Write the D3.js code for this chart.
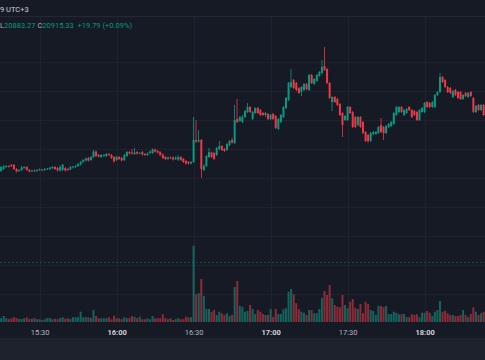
<!DOCTYPE html>
<html><head><meta charset="utf-8">
<script src="https://cdn.jsdelivr.net/npm/d3@7"></script>
<style>html,body{margin:0;padding:0;background:#161a25;}svg{display:block;}</style>
</head><body><svg id="c" width="485" height="360"></svg>
<script>
// ---- data (1-minute candles from 15:15, UTC+3) ----
const open = [
20874.5,20875.5,20876.5,20877,20877.5,20877.5,20875.5,20874.5,20875,20876,
20876.5,20875,20874.5,20874.75,20874.5,20875,20875.25,20875,20875.5,20875.5,
20876,20876.5,20876,20874.75,20875,20876,20875.5,20875.25,20876.25,20876.5,
20877,20877.75,20879,20879.75,20881,20880,20881.5,20884.25,20882.5,20881.5,
20882,20882,20883,20882.5,20881.5,20880,20881.5,20881,20880,20882,
20884,20883.75,20883,20884,20883.25,20884,20883,20882.5,20883.5,20883.5,
20885.25,20884.5,20884,20882.75,20881.5,20880.5,20881.25,20881.25,20880.5,20880.25,
20881.5,20880.5,20879.5,20879,20878.25,20879,20890,20889.25,20890,20875,
20877,20881.5,20883.75,20883.5,20882.5,20885.5,20887,20885.5,20885,20887.5,
20890,20888.5,20900.5,20899.5,20899,20901.5,20904,20906.5,20900.5,20903.5,
20906,20905,20903.5,20902.5,20903,20900.5,20903,20902,20895.5,20899,
20901.5,20906,20910,20916.5,20920,20918.5,20916,20914,20915,20918,
20915,20922.5,20918,20919.5,20922,20923.5,20927,20925.5,20918.5,20909,
20911.5,20910.5,20908,20903.5,20900,20900,20906.5,20904,20901.5,20897.5,
20901.5,20899,20894,20892.5,20889.5,20893,20893,20893.5,20897.5,20896.5,
20893.5,20896.5,20897,20898,20902.5,20904,20906.5,20902.5,20903.5,20906.5,
20905,20904.5,20904,20900,20904,20904,20909,20908.5,20906.5,20906.5,
20912.5,20914,20921.5,20920,20916.5,20916,20911.5,20915,20914,20914,
20910.5,20913.5,20911.5,20914,20911,20904,20907.5,20905,20907.5];
const high = [
20877,20877.5,20877.5,20877.5,20878,20878,20876,20875.5,20877,20877,
20877,20875.5,20875,20875.25,20875.5,20875.75,20875.5,20876,20876,20876.5,
20877,20877,20876.5,20877.5,20878,20876.5,20876,20877,20877,20877.5,
20878.5,20879.5,20880.5,20881.25,20881.5,20882,20885,20884.75,20883,20883,
20883,20883.5,20883.5,20883,20882,20882,20882,20881.5,20883,20884.5,
20884.5,20885.5,20886,20884.5,20884,20884.5,20883.5,20883.75,20884.75,20885.75,
20885.75,20885,20884.5,20883.25,20882,20881.75,20881.75,20881.75,20881.75,20882.5,
20882,20881,20880,20879.5,20879.5,20901.5,20900,20895,20890.5,20878,
20882.5,20886,20884.25,20884,20886.5,20889.5,20887.5,20886,20888.5,20890,
20891,20907.5,20910.5,20902,20902.5,20905,20908.5,20907,20904.5,20906.5,
20906.5,20905.5,20904,20904,20903.5,20903,20903.5,20902.5,20901,20903,
20907,20911.5,20919,20925.5,20920.5,20919,20916.5,20917,20918.5,20918.5,
20923,20923,20921,20923,20924.5,20930,20936.5,20926,20919,20912,
20912,20911,20908.5,20904,20902.5,20907,20907,20904.5,20902,20902,
20902,20899.5,20894.5,20893,20894,20894.5,20894.5,20897,20901,20897,
20897.5,20898.5,20899.5,20904,20907,20907,20907,20905.5,20906,20907,
20905.5,20905,20904.5,20905.5,20906.5,20909,20909.5,20909,20909.5,20913,
20914.5,20923.5,20922,20920.5,20917,20916.5,20915,20915.5,20914.5,20914.5,
20913,20914,20914,20914.5,20911.5,20907.5,20908,20908,20908];
const low = [
20874,20875,20876,20876.25,20876.5,20875,20873.75,20874,20874.5,20875.5,
20874.5,20873.75,20874,20874,20874,20874.5,20874.5,20874.5,20875,20875,
20875.5,20875,20874.25,20874.25,20874.5,20874.25,20874.5,20875,20875.75,20876,
20876.5,20877.25,20878.5,20879.25,20879.25,20879.5,20881,20881.5,20881.25,20881,
20881.5,20881.5,20882,20880.5,20878.75,20879.5,20880,20879.25,20879.5,20881.5,
20882.75,20882.75,20882.5,20882.75,20883,20882.25,20882,20882,20883,20883,
20883.75,20883.25,20882,20880.5,20880,20880,20880.5,20879.75,20880,20879.5,
20879.5,20878.5,20877.75,20877.75,20877.75,20878.5,20888.5,20888.75,20871,20874.5,
20876.5,20881,20881,20880,20882,20885,20884.5,20884,20884.5,20887,
20888.25,20888,20898.5,20899,20898.5,20901,20903.5,20903.5,20900,20903,
20903,20902,20902,20901.5,20900,20900,20900,20895.5,20895,20898.5,
20901,20905.5,20909.5,20916,20915.5,20914.5,20913,20912,20914.5,20915,
20914.5,20918,20917.5,20919,20921.5,20923,20924.5,20918,20910.5,20904.5,
20908.5,20907,20902,20891.5,20899.5,20899.5,20903,20896,20896,20897,
20896,20893,20889,20888.5,20889,20892.5,20892.5,20893,20893.5,20890,
20893,20896,20896.5,20897.5,20902,20903.5,20903.5,20902,20903,20904.5,
20901,20902,20899.5,20899.5,20903.5,20903.5,20906,20906,20906,20906,
20912,20913.5,20918.5,20916,20913.5,20913,20911,20912,20910.5,20910,
20910,20911.5,20911,20911.5,20903.5,20903.5,20904.5,20904.5,20902];
const close = [
20876.5,20876.75,20877,20876.75,20877,20875.5,20874.25,20875,20876.25,20876.5,
20875,20874.25,20874.75,20874.5,20875,20875.25,20875,20875.5,20875.75,20876.25,
20876.5,20875.5,20874.75,20876.5,20877.75,20874.75,20875,20876.5,20876.75,20877,
20878,20879,20880,20880.75,20879.75,20881.5,20884.25,20882,20881.75,20882.5,
20882.5,20883,20882.5,20881,20879.25,20881.5,20880.5,20879.75,20882.5,20884,
20883.25,20883.25,20883.75,20883.25,20883.5,20882.75,20882.5,20883.25,20884.25,20885.25,
20884.25,20883.75,20882.5,20881,20880.5,20881.25,20881,20880.25,20881.25,20881.5,
20880,20879,20878.25,20878.25,20879,20890,20889.25,20890,20875.5,20877,
20882,20884,20881.5,20880.5,20886,20887,20885,20884.5,20888,20889.5,
20888.75,20900,20899,20901.5,20901.5,20904.5,20906.5,20904,20904,20906,
20903.5,20902.5,20902.5,20903.5,20900.5,20902.5,20900.5,20896,20900.5,20902.5,
20906.5,20911,20918.5,20919,20916,20915,20913.5,20916.5,20918,20915.5,
20922.5,20918.5,20920.5,20922.5,20924,20926.5,20925,20918.5,20911,20911.5,
20909,20907.5,20902.5,20897.5,20902,20906.5,20903.5,20896.5,20896.5,20901.5,
20896.5,20893.5,20889.5,20889.5,20893.5,20894,20894,20896.5,20894,20893.5,
20897,20898,20899,20903.5,20906.5,20906.5,20904,20905,20905.5,20905,
20901.5,20902.5,20900,20905,20906,20908.5,20906.5,20906.5,20909,20912.5,
20914,20921.5,20919,20916.5,20914,20913.5,20914.5,20912.5,20911,20910.5,
20912.5,20912,20913.5,20912,20904,20907,20905,20907.5,20902.5];
const volume = [
150,240,150,120,150,190,160,120,120,150,
190,120,130,160,110,110,80,110,160,160,
110,130,110,160,190,130,150,120,190,190,
190,410,190,190,190,160,480,240,150,150,
150,150,190,110,250,150,150,110,190,150,
170,240,210,150,210,110,110,150,110,240,
150,150,150,310,150,110,150,80,110,150,
110,110,210,190,190,3050,1110,1150,1720,1040,
520,520,410,480,280,410,350,280,350,240,
280,1400,1640,650,610,410,440,680,520,320,
480,410,320,280,280,520,210,520,320,320,
510,550,1210,1320,1110,750,510,410,370,280,
480,480,350,350,520,970,1240,1080,1480,950,
680,610,590,1080,680,550,810,920,570,520,
720,350,810,720,480,440,280,640,640,590,
640,320,320,410,370,310,310,320,190,190,
310,280,310,190,370,370,440,370,240,410,
480,840,410,450,350,280,280,240,240,280,
480,280,190,320,590,410,280,350,410];
const timeTicks = ["15:30","16:00","16:30","17:00","17:30","18:00"];
const priceGrid = [20929,20914.5,20900,20885.5,20871,20856.5,20842,20827.5,20813];
const refLine = 20829;
const headerText = "9 UTC+3";
const legendItems = [["L",""],["20883.27","v"],[" C",""],["20915.33","v"],["  +19.79 (+0.09%)","v"]];

// ---- drawing ----
const W = 485, H = 360;
const svg = d3.select("#c");
const BG = "#161a25", UP = "#089981", DN = "#f23645";
const start = new Date(2024, 11, 19, 15, 15);
const times = open.map((_, i) => d3.timeMinute.offset(start, i));
const parseT = s => { const [h, m] = s.split(":").map(Number); return new Date(2024, 11, 19, h, m); };
const tickDates = timeTicks.map(parseT);

const x = d3.scaleTime().domain([tickDates[0], tickDates[5]]).range([39.6, 424.6]);
const y = d3.scaleLinear().domain([20940, 20870]).range([40, 180]);
const yv = d3.scaleLinear().domain([0, 4000]).range([322, 222]);

svg.append("rect").attr("width", W).attr("height", H).attr("fill", BG);

// grid
const g = svg.append("g");
g.selectAll("line.h").data(priceGrid).join("line")
  .attr("x1", 0).attr("x2", W)
  .attr("y1", d => Math.round(y(d)) + 0.5).attr("y2", d => Math.round(y(d)) + 0.5)
  .attr("stroke", "#1f2330").attr("stroke-width", 1);
g.selectAll("line.v").data(tickDates).join("line")
  .attr("x1", d => Math.round(x(d)) + 0.5).attr("x2", d => Math.round(x(d)) + 0.5)
  .attr("y1", 17).attr("y2", 322)
  .attr("stroke", "#1f2330").attr("stroke-width", 1);

// reference dashed line
svg.append("line").attr("x1", 0).attr("x2", W)
  .attr("y1", Math.round(y(refLine)) + 0.5).attr("y2", Math.round(y(refLine)) + 0.5)
  .attr("stroke", "#1a4642").attr("stroke-width", 1).attr("stroke-dasharray", "2,2");

// volume
const bw = 2.0;
svg.append("g").selectAll("rect").data(volume).join("rect")
  .attr("x", (d, i) => x(times[i]) - bw / 2)
  .attr("y", d => yv(d))
  .attr("width", bw)
  .attr("height", d => yv(0) - yv(d))
  .attr("fill", (d, i) => close[i] >= open[i] ? "rgba(20,160,140,0.55)" : "rgba(242,54,69,0.55)");

// candles
const cg = svg.append("g").selectAll("g").data(open).join("g");
cg.append("line")
  .attr("x1", (d, i) => Math.round(x(times[i]) * 2) / 2).attr("x2", (d, i) => Math.round(x(times[i]) * 2) / 2)
  .attr("y1", (d, i) => y(high[i])).attr("y2", (d, i) => y(low[i]))
  .attr("stroke", (d, i) => close[i] >= open[i] ? UP : DN).attr("stroke-width", 0.8);
cg.append("rect")
  .attr("x", (d, i) => x(times[i]) - 1)
  .attr("y", (d, i) => y(Math.max(open[i], close[i])))
  .attr("width", 2)
  .attr("height", (d, i) => Math.max(0.8, Math.abs(y(open[i]) - y(close[i]))))
  .attr("fill", (d, i) => close[i] >= open[i] ? UP : DN);

// time axis
svg.append("rect").attr("x", 0).attr("y", 338).attr("width", W).attr("height", 22).attr("fill", "#1e222d");
const ax = svg.append("g").attr("transform", "translate(0,322)")
  .call(d3.axisBottom(x).tickValues(tickDates).tickSize(0).tickPadding(8)
    .tickFormat((d, i) => timeTicks[i]));
ax.select(".domain").remove();
ax.selectAll("text")
  .attr("font-family", "Roboto, 'Noto Sans', sans-serif")
  .attr("font-size", 7.5)
  .attr("font-weight", d => d.getMinutes() === 0 ? 700 : 400)
  .attr("fill", d => d.getMinutes() === 0 ? "#d1d4dc" : "#b2b5be");

// header
svg.append("line").attr("x1", 0).attr("x2", W).attr("y1", 16.5).attr("y2", 16.5).attr("stroke", "#242834");
svg.append("text").attr("x", 0).attr("y", 11.5)
  .attr("font-family", "Roboto, 'Noto Sans', sans-serif").attr("font-size", 7.5)
  .attr("fill", "#d1d4dc").text(headerText);
const lt = svg.append("text").attr("x", 0).attr("y", 28)
  .attr("font-family", "Roboto, 'Noto Sans', sans-serif").attr("font-size", 7.5)
  .attr("xml:space", "preserve").style("white-space", "pre");
legendItems.forEach(([t, k]) => lt.append("tspan").attr("fill", k ? UP : "#b2b5be").text(t));
</script>
</body></html>
